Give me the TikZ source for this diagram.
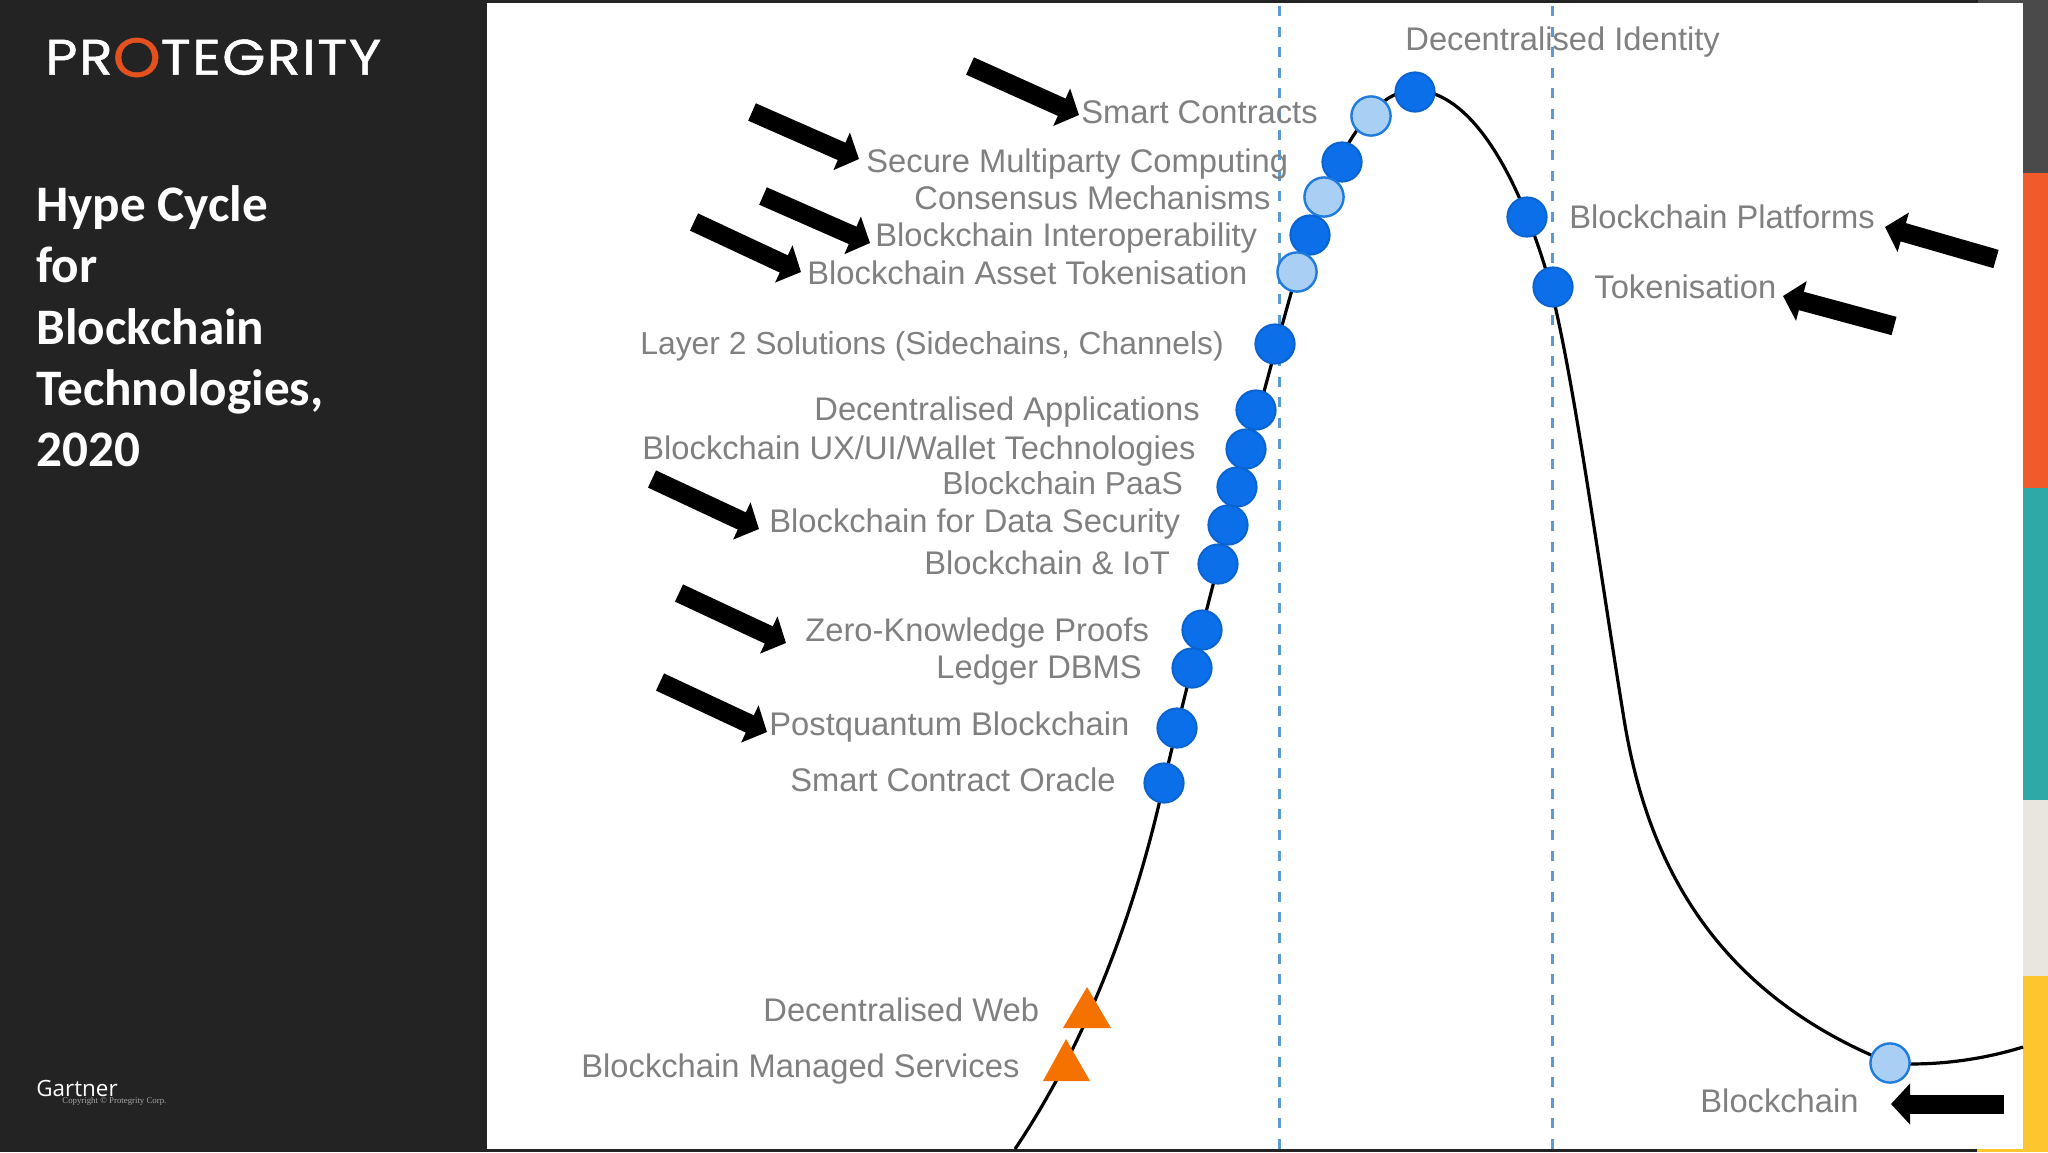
\documentclass[tikz,border=0pt]{standalone}
\usepackage{fontspec}
\setmainfont{Liberation Sans}
\newfontfamily\titlefont{Carlito}
\newfontfamily\logofont[LetterSpace=3,FakeStretch=1.11,FakeBold=1]{Poppins}
\newfontfamily\gartfont{Open Sans}
\newfontfamily\copyfont{Liberation Serif}
\usetikzlibrary{arrows.meta}
\definecolor{panel}{HTML}{232323}
\definecolor{lab}{HTML}{808080}
\definecolor{dotblue}{HTML}{0A6FE8}
\definecolor{dotlight}{HTML}{A9CFF5}
\definecolor{dotedge}{HTML}{1F7BDD}
\definecolor{dashblue}{HTML}{5B9BD5}
\definecolor{tri}{HTML}{F57200}
\definecolor{ringo}{HTML}{E2511E}
\definecolor{stripgrey}{HTML}{4A4A4A}
\definecolor{striporange}{HTML}{F15A2B}
\definecolor{stripteal}{HTML}{2FA8A8}
\definecolor{stripcream}{HTML}{E9E6DF}
\definecolor{stripyellow}{HTML}{FDC62F}
\tikzset{
  lbl/.style={anchor=west,inner sep=0pt,text height=11.7pt,text depth=0pt,text=lab,font=\fontsize{16.35}{19}\selectfont},
  lblnarrow/.style={lbl,font=\fontsize{15.9}{19}\selectfont},
  fulldot/.style={circle,inner sep=0pt,minimum size=19.6pt,fill=dotblue,draw=dotblue!90!black,line width=1pt},
  lightdot/.style={circle,inner sep=0pt,minimum size=19.6pt,fill=dotlight,draw=dotedge,line width=1.2pt},
  tridot/.style={fill=tri},
  phase/.style={dashblue,line width=1.5pt,dash pattern=on 5pt off 5.3pt},
  blockarrow/.style={black,line width=9.5pt,-{Triangle[length=9.5pt,width=20pt]}},
}
\begin{document}
\begin{tikzpicture}[x=.5pt,y=-.5pt]
\useasboundingbox (0,0) rectangle (2048,1152);
\fill[panel] (0,0) rectangle (2048,1152);
\fill[white] (487,3) rectangle (2023,1149);
\fill[stripgrey] (1978,0) rectangle (2023,3);
\fill[stripgrey] (2023,0) rectangle (2048,173);
\fill[striporange] (2023,173) rectangle (2048,488);
\fill[stripteal] (2023,488) rectangle (2048,800);
\fill[stripcream] (2023,800) rectangle (2048,976);
\fill[stripyellow] (2023,976) rectangle (2048,1152);
\fill[stripyellow] (1977,1149) rectangle (2023,1152);
% left panel
\node[anchor=west,inner sep=0pt,text=white,font=\logofont\fontsize{25}{28}\selectfont] (logo) at (45,57.5) {PR\textcolor{ringo}{\raisebox{-1pt}{\scalebox{1.1}{O}}}TEGRITY};
\node[anchor=north west,inner sep=0pt,align=left,text=white,font=\titlefont\bfseries\fontsize{25.6}{30.7}\selectfont] (title) at (36,185) {Hype Cycle\\for\\Blockchain\\Technologies,\\2020};
\node[anchor=west,inner sep=0pt,text=white,font=\gartfont\fontsize{11.2}{14}\selectfont] (gartner) at (36,1088) {Gartner};
\node[anchor=west,inner sep=0pt,text=white!65!black,font=\copyfont\fontsize{4.4}{6}\selectfont] (copy) at (62,1101) {Copyright © Protegrity Corp.};
% phase lines
\draw[phase] (1279,6) -- (1279,1149);
\draw[phase] (1552,6) -- (1552,1149);
% curve
\draw[black,line width=1.6pt] (1015,1149) .. controls (1085,1045) and (1135,915) .. (1164,782)
  .. controls (1190,670) and (1255,420) .. (1297,272)
  .. controls (1325,175) and (1365,90) .. (1415,90)
  .. controls (1470,92) and (1515,170) .. (1545,267)
  .. controls (1570,350) and (1595,540) .. (1623,713)
  .. controls (1642,835) and (1695,985) .. (1890,1063)
  .. controls (1925,1066) and (1975,1062) .. (2023,1047);
% labels
\node[lbl] (t1) at (1405,39) {Decentralised Identity};
\node[lbl] (t2) at (1081,112) {Smart Contracts};
\node[lbl] (t3) at (866,161) {Secure Multiparty Computing};
\node[lbl] (t4) at (914,198) {Consensus Mechanisms};
\node[lbl] (t5) at (875,235) {Blockchain Interoperability};
\node[lbl] (t6) at (807,273) {Blockchain Asset Tokenisation};
\node[lblnarrow] (t7) at (640,343) {Layer 2 Solutions (Sidechains, Channels)};
\node[lbl] (t8) at (814,409) {Decentralised Applications};
\node[lbl] (t9) at (642,448) {Blockchain UX/UI/Wallet Technologies};
\node[lblnarrow] (t10) at (942,483) {Blockchain PaaS};
\node[lbl] (t11) at (769,521) {Blockchain for Data Security};
\node[lbl] (t12) at (924,563) {Blockchain \& IoT};
\node[lbl] (t13) at (805,630) {Zero-Knowledge Proofs};
\node[lbl] (t14) at (936,667) {Ledger DBMS};
\node[lbl] (t15) at (769,724) {Postquantum Blockchain};
\node[lbl] (t16) at (790,780) {Smart Contract Oracle};
\node[lbl] (t17) at (763,1010) {Decentralised Web};
\node[lbl] (t18) at (581,1066) {Blockchain Managed Services};
\node[lbl] (t19) at (1569,217) {Blockchain Platforms};
\node[lbl] (t20) at (1594,287) {Tokenisation};
\node[lbl] (t21) at (1700,1101) {Blockchain};
% dots
\node[fulldot] (d1) at (1415,92) {};
\node[lightdot] (d2) at (1371,116) {};
\node[fulldot] (d3) at (1342,162) {};
\node[lightdot] (d4) at (1324,197) {};
\node[fulldot] (d5) at (1310,235) {};
\node[lightdot] (d6) at (1297,272) {};
\node[fulldot] (d7) at (1527,217) {};
\node[fulldot] (d8) at (1553,287) {};
\node[fulldot] (d9) at (1275,344) {};
\node[fulldot] (d10) at (1256,410) {};
\node[fulldot] (d11) at (1246,449) {};
\node[fulldot] (d12) at (1237,487) {};
\node[fulldot] (d13) at (1228,525) {};
\node[fulldot] (d14) at (1218,564) {};
\node[fulldot] (d15) at (1202,630) {};
\node[fulldot] (d16) at (1192,668) {};
\node[fulldot] (d17) at (1177,728) {};
\node[fulldot] (d18) at (1164,783) {};
\node[lightdot] (d19) at (1890,1063) {};
\fill[tridot] (1087,987) -- (1111,1028) -- (1063,1028) -- cycle;
\fill[tridot] (1066,1039) -- (1090,1081) -- (1043,1081) -- cycle;
% arrows
\coordinate (a1s) at (970,66);  \coordinate (a1e) at (1079,115);
\coordinate (a2s) at (752,112); \coordinate (a2e) at (859,159);
\coordinate (a3s) at (763,196); \coordinate (a3e) at (870,243);
\coordinate (a4s) at (694,222); \coordinate (a4e) at (801,272);
\coordinate (a5s) at (652,479); \coordinate (a5e) at (759,529);
\coordinate (a6s) at (679,593); \coordinate (a6e) at (786,643);
\coordinate (a7s) at (660,682); \coordinate (a7e) at (767,732);
\coordinate (a8s) at (1996,259); \coordinate (a8e) at (1885,227);
\coordinate (a9s) at (1894,326); \coordinate (a9e) at (1783,296);
\coordinate (a10s) at (2004,1104); \coordinate (a10e) at (1891,1104);
\foreach \i in {1,...,10} \draw[blockarrow] (a\i s) -- (a\i e);
\end{tikzpicture}
\end{document}
